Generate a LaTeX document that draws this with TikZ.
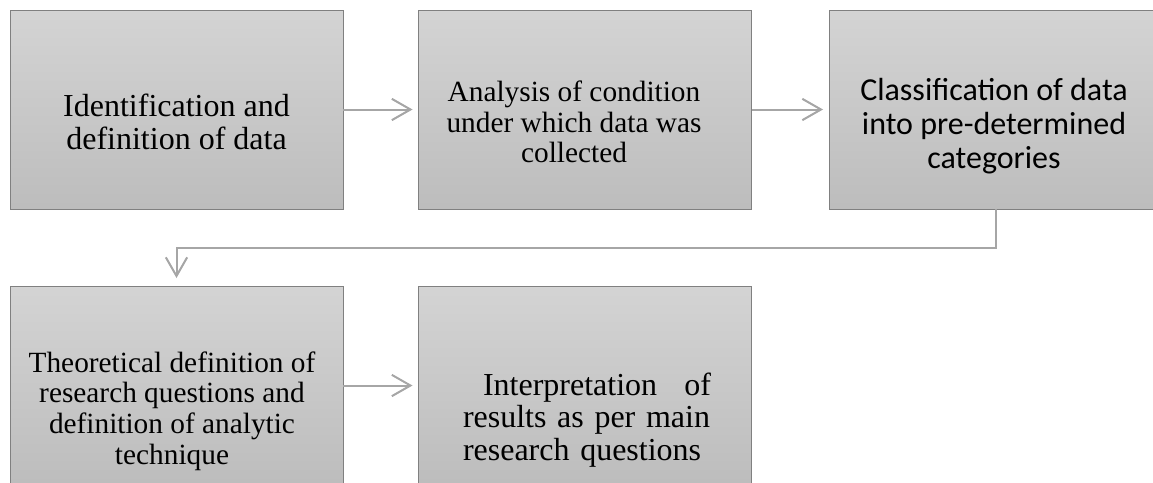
\documentclass[tikz,border=0pt]{standalone}
\usepackage{fontspec}
\setmainfont{Liberation Serif}
\newfontfamily\calibrifont{Carlito}
\usetikzlibrary{positioning,arrows.meta}

\begin{document}
\begin{tikzpicture}[
    x=0.75pt, y=-0.75pt,
    stepbox/.style = {
        draw=black!50,
        line width=0.75pt,
        top color=black!17,
        bottom color=black!26,
        minimum width=249.75pt,
        minimum height=149.25pt,
        outer sep=0pt,
        inner sep=0pt
    },
    steptext/.style = {
        align=center,
        inner sep=0pt,
        font=\fontsize{22}{23}\selectfont
    },
    bigtext/.style = {
        align=center,
        inner sep=0pt,
        font=\fontsize{24}{24.5}\selectfont
    },
    sanstext/.style = {
        align=center,
        inner sep=0pt,
        font=\calibrifont\fontsize{24}{25.5}\selectfont
    },
    flow/.style = {
        draw=black!35,
        line width=1.5pt,
        shorten >=4.5pt,
        -{Straight Barb[length=14pt, width=16pt]}
    }
]

\useasboundingbox (0,0) rectangle (1153,482);
\clip (0,0) rectangle (1153,482);

% --- Boxes ---
\node[stepbox] (ident) at (176.5,109.5) {};
\node[stepbox] (cond) at (585,109.5) {};
\node[stepbox] (classif) at (995.5,109.5) {};
\node[stepbox] (theory) at (176.5,385.5) {};
\node[stepbox] (interp) at (585,385.5) {};

% --- Texts ---
\node[bigtext] (ident-t) at (176.5,122) {Identification and\\definition of data};
\node[steptext] (cond-t) at (574,122) {Analysis of condition\\under which data was\\collected};
\node[sanstext] (classif-t) at (994,126) {Classification of data\\into pre-determined\\categories};
\node[steptext] (theory-t) at (172,411) {Theoretical definition of\\research questions and\\definition of analytic\\technique};
\node[bigtext, align=left, text width=186pt] (interp-t) at (587,420)
    {\hspace*{15pt}Interpretation\hfill of\\\mbox{results as per main}\\research questions};

% --- Arrows ---
\draw[flow] (ident.east) -- (cond.west);
\draw[flow] (cond.east) -- (classif.west);
\draw[flow, shorten >=6pt] (classif.south) -- ++(0,39) -| (theory.north);
\draw[flow] (theory.east) -- (interp.west);

\end{tikzpicture}
\end{document}
